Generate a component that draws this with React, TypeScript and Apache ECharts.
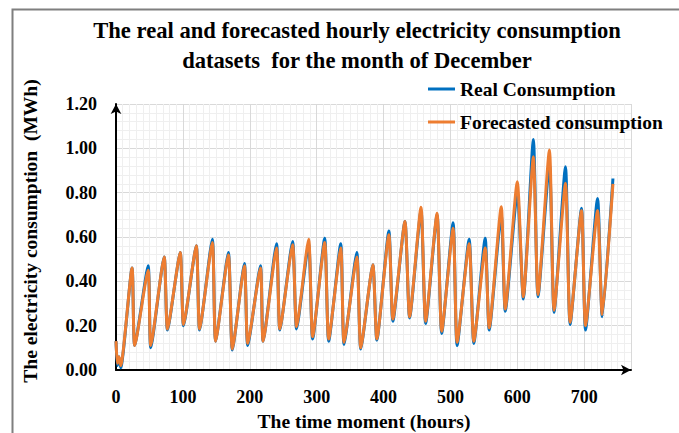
import React, { useEffect, useRef } from "react";
import * as echarts from "echarts";

const TITLE_LINES = [
  "The real and forecasted hourly electricity consumption",
  "datasets  for the month of December",
];
const X_NAME = "The time moment (hours)";
const Y_NAME = "The electricity consumption  (MWh)";
const SERIES_NAMES = ["Real Consumption", "Forecasted consumption"];

// hour of each read point (daily troughs and peaks)
const hours = [
  0, 2, 4.5, 7, 24, 28, 48, 52, 72, 77, 96, 101, 120, 125, 144, 149, 168, 174,
  192, 197, 216, 220, 240, 245, 264, 270, 288, 294, 312, 318, 336, 341, 360,
  366, 384, 390, 408, 414, 432, 439, 456, 463, 480, 487, 504, 510, 528, 535,
  552, 558, 576, 582, 600, 609, 624, 631, 648, 655, 672, 679, 696, 702, 720,
  727, 743,
];

const realValues = [
  0.13, 0.02, 0.06, 0.01, 0.46, 0.11, 0.47, 0.1, 0.51, 0.18, 0.53, 0.2, 0.56,
  0.18, 0.59, 0.13, 0.53, 0.09, 0.48, 0.11, 0.47, 0.13, 0.57, 0.18, 0.58, 0.185,
  0.57, 0.14, 0.594, 0.13, 0.57, 0.115, 0.53, 0.095, 0.475, 0.135, 0.627, 0.22,
  0.67, 0.235, 0.72, 0.21, 0.7, 0.165, 0.664, 0.11, 0.59, 0.12, 0.594, 0.18,
  0.7, 0.265, 0.8, 0.32, 1.04, 0.33, 0.93, 0.26, 0.917, 0.205, 0.73, 0.18,
  0.774, 0.24, 0.864,
];

const forecastValues = [
  0.13, 0.03, 0.06, 0.02, 0.46, 0.11, 0.45, 0.11, 0.51, 0.185, 0.53, 0.205,
  0.56, 0.185, 0.575, 0.13, 0.52, 0.095, 0.47, 0.12, 0.46, 0.13, 0.55, 0.185,
  0.565, 0.195, 0.59, 0.15, 0.575, 0.14, 0.55, 0.125, 0.51, 0.1, 0.475, 0.14,
  0.61, 0.23, 0.67, 0.24, 0.734, 0.22, 0.707, 0.175, 0.64, 0.125, 0.57, 0.13,
  0.55, 0.19, 0.737, 0.275, 0.849, 0.33, 0.962, 0.34, 0.992, 0.27, 0.842,
  0.215, 0.72, 0.2, 0.72, 0.25, 0.84,
];

const FONT = "'Liberation Serif', 'Times New Roman', serif";
const BLUE = "#0070C0";
const ORANGE = "#ED7D31";

export default function App() {
  const ref = useRef<HTMLDivElement>(null);

  useEffect(() => {
    if (!ref.current) return;
    const chart = echarts.init(ref.current, null, { renderer: "svg" });
    const realData = hours.map((h, i) => [h, realValues[i]]);
    const fcData = hours.map((h, i) => [h, forecastValues[i]]);

    chart.setOption({
      animation: false,
      backgroundColor: "#ffffff",
      grid: {
        left: 116,
        right: 48,
        top: 104,
        bottom: 63,
        outerBoundsMode: "none",
      },
      legend: {
        orient: "vertical",
        left: 423,
        top: 74,
        icon: "rect",
        itemWidth: 27,
        itemHeight: 3,
        itemGap: 13,
        data: SERIES_NAMES,
        textStyle: {
          fontFamily: FONT,
          fontWeight: "bold",
          fontSize: 19.5,
          color: "#000",
          lineHeight: 20,
        },
      },
      xAxis: {
        type: "value",
        min: 0,
        max: 770,
        interval: 100,
        axisLine: {
          show: true,
          lineStyle: { color: "#000", width: 2 },
          symbol: ["none", "arrow"],
          symbolSize: [8, 10],
        },
        axisTick: { show: false },
        axisLabel: {
          margin: 18,
          showMaxLabel: false,
          fontFamily: FONT,
          fontWeight: "bold",
          fontSize: 18,
          color: "#000",
          formatter: (v: number) => (v % 100 === 0 ? String(v) : ""),
        },
        splitLine: { show: true, lineStyle: { color: "#d9d9d9", width: 1 } },
        minorTick: { show: false, splitNumber: 10 },
        minorSplitLine: { show: true, lineStyle: { color: "#efefef", width: 1 } },
      },
      yAxis: {
        type: "value",
        min: 0,
        max: 1.2,
        interval: 0.2,
        axisLine: {
          show: true,
          lineStyle: { color: "#000", width: 2 },
          symbol: ["none", "arrow"],
          symbolSize: [8, 10],
        },
        axisTick: { show: false },
        axisLabel: {
          margin: 19,
          fontFamily: FONT,
          fontWeight: "bold",
          fontSize: 18,
          color: "#000",
          formatter: (v: number) => v.toFixed(2),
        },
        splitLine: { show: true, lineStyle: { color: "#d9d9d9", width: 1 } },
        minorTick: { show: false, splitNumber: 5 },
        minorSplitLine: { show: true, lineStyle: { color: "#efefef", width: 1 } },
      },
      series: [
        {
          name: SERIES_NAMES[0],
          type: "line",
          data: realData,
          showSymbol: false,
          smooth: 0.2,
          lineStyle: { color: BLUE, width: 3 },
          itemStyle: { color: BLUE },
          z: 2,
        },
        {
          name: SERIES_NAMES[1],
          type: "line",
          data: fcData,
          showSymbol: false,
          smooth: 0.2,
          lineStyle: { color: ORANGE, width: 3 },
          itemStyle: { color: ORANGE },
          z: 3,
        },
      ],
      graphic: [
        {
          type: "rect",
          silent: true,
          shape: { x: 12.5, y: 9.5, width: 800, height: 600 },
          style: { fill: "none", stroke: "#7f7f7f", lineWidth: 2 },
        },
        {
          type: "text",
          x: 357,
          y: 30,
          style: {
            text: TITLE_LINES[0],
            font: `bold 22.6px ${FONT}`,
            fill: "#000",
            textAlign: "center",
            textVerticalAlign: "middle",
          },
        },
        {
          type: "text",
          x: 357,
          y: 60,
          style: {
            text: TITLE_LINES[1],
            font: `bold 22.6px ${FONT}`,
            fill: "#000",
            textAlign: "center",
            textVerticalAlign: "middle",
          },
        },
        {
          type: "text",
          x: 364,
          y: 421,
          style: {
            text: X_NAME,
            font: `bold 19.5px ${FONT}`,
            fill: "#000",
            textAlign: "center",
            textVerticalAlign: "middle",
          },
        },
        {
          type: "text",
          x: 30,
          y: 231,
          rotation: Math.PI / 2,
          style: {
            text: Y_NAME,
            font: `bold 19.5px ${FONT}`,
            fill: "#000",
            textAlign: "center",
            textVerticalAlign: "middle",
          },
        },
      ],
    });

    return () => chart.dispose();
  }, []);

  return (
    <div
      ref={ref}
      style={{ position: "fixed", left: 0, top: 0, width: 679, height: 433 }}
    />
  );
}
